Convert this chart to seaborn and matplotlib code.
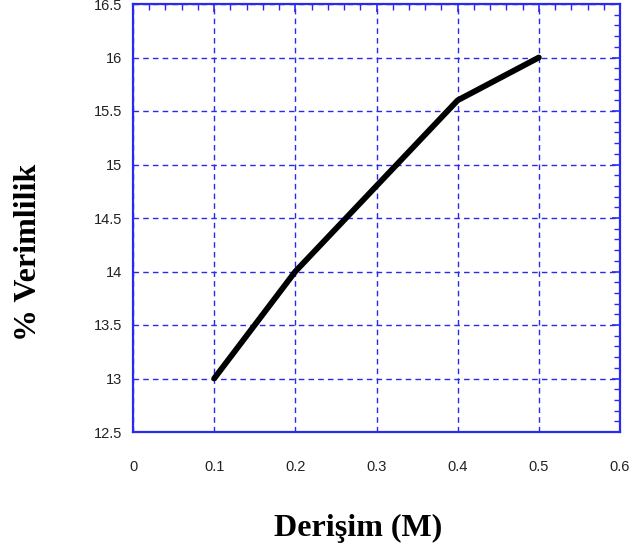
import matplotlib
matplotlib.use("Agg")
import matplotlib.pyplot as plt
import seaborn as sns
import pandas as pd
from matplotlib.ticker import MultipleLocator

concentration = [0.1, 0.2, 0.3, 0.4, 0.5]
efficiency = [13.0, 14.0, 14.8, 15.6, 16.0]
x_ticks = [0, 0.1, 0.2, 0.3, 0.4, 0.5, 0.6]
y_ticks = [12.5, 13, 13.5, 14, 14.5, 15, 15.5, 16, 16.5]

sns.set_style("white")
plt.rcParams['font.family'] = ['Liberation Sans', 'DejaVu Sans']

df = pd.DataFrame({"x": concentration, "y": efficiency})
fig = plt.figure(figsize=(6.34, 5.53), dpi=100)
L, R, T, B = 133, 620, 4, 432
ax = fig.add_axes([L/634, 1-B/553, (R-L)/634, (B-T)/553])
sns.lineplot(data=df, x="x", y="y", ax=ax, color="black", linewidth=4.2)

blue = "#2a2aee"
ax.set_xlim(0, 0.6)
ax.set_ylim(12.5, 16.5)
ax.set_xticks(x_ticks)
ax.set_xticklabels([f"{v:g}" for v in x_ticks])
ax.set_yticks(y_ticks)
ax.set_yticklabels([f"{v:g}" for v in y_ticks])
ax.xaxis.set_minor_locator(MultipleLocator(0.02))
ax.yaxis.set_minor_locator(MultipleLocator(0.1))
ax.grid(True, which="major", color=blue, linestyle=(0, (4, 3)), linewidth=1.0)
for s in ax.spines.values():
    s.set_color(blue)
    s.set_linewidth(1.6)
ax.tick_params(which="both", direction="in", top=True, right=True, color=blue)
ax.tick_params(which="major", length=6, width=1.2, labelsize=10.5, labelcolor="#222222")
ax.tick_params(which="minor", length=4, width=1.0)
ax.tick_params(axis="x", which="major", pad=20)
ax.tick_params(axis="y", which="major", pad=8)

ax.set_xlabel("Derişim (M)", family="Liberation Serif", fontweight="bold", fontsize=23, color="black")
ax.set_ylabel("% Verimlilik", family="Liberation Serif", fontweight="bold", fontsize=23, color="black")
# position labels (axes fraction)
ax.xaxis.set_label_coords((358 - L) / (R - L), (B - 514) / (B - T))
ax.yaxis.set_label_coords((43 - L) / (R - L), (B - 252) / (B - T))

fig.savefig("out.png", dpi=100)
